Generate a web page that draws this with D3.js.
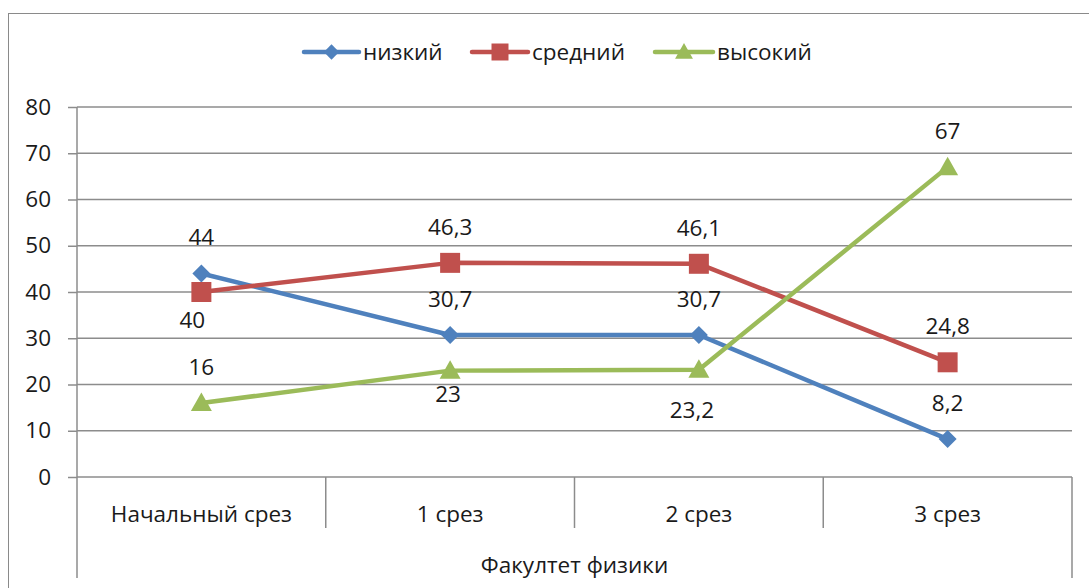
<!DOCTYPE html>
<html>
<head>
<meta charset="utf-8">
<script src="https://cdn.jsdelivr.net/npm/d3@7"></script>
<style>
  html, body { margin: 0; padding: 0; background: #fff; }
  svg { display: block; font-family: "Open Sans", "Noto Sans", sans-serif; }
</style>
</head>
<body>
<svg id="chart" width="1089" height="588"></svg>
<script>
// Categories (slices) and the group they belong to
const categories = ["Начальный срез", "1 срез", "2 срез", "3 срез"];
const groupLabel = "Факултет физики";

// Series values, %
const seriesNames = ["низкий", "средний", "высокий"];
const lowValues = [44, 30.7, 30.7, 8.2];
const midValues = [40, 46.3, 46.1, 24.8];
const highValues = [16, 23, 23.2, 67];

// Y axis ticks
const yTicks = [0, 10, 20, 30, 40, 50, 60, 70, 80];

// Value label offsets from their points, [dx, dy] in px
const lowLabelShift = [[0, -36], [0, -36], [0, -36], [0, -36]];
const midLabelShift = [[-9, 28], [0, -36], [0, -36], [0, -36]];
const highLabelShift = [[0, -36], [-2, 23], [-7, 40], [0, -36]];

const series = [
  { name: seriesNames[0], values: lowValues, shift: lowLabelShift, color: "#4F81BD", marker: "diamond" },
  { name: seriesNames[1], values: midValues, shift: midLabelShift, color: "#C0504D", marker: "square" },
  { name: seriesNames[2], values: highValues, shift: highLabelShift, color: "#9BBB59", marker: "triangle" }
];

const svg = d3.select("#chart");
const plot = { left: 77, right: 1072, top: 107, bottom: 477 };
const textColor = "#1a1a1a";
const gridColor = "#8c8c8c";
const fontSize = 22.5;

// Outer chart frame
svg.append("rect")
  .attr("x", 8.5).attr("y", 13.5)
  .attr("width", 1100).attr("height", 600)
  .attr("fill", "none").attr("stroke", "#8a8a8a").attr("stroke-width", 1);

const x = d3.scaleBand().domain(categories).range([plot.left, plot.right]).padding(0);
const y = d3.scaleLinear().domain([0, 80]).range([plot.bottom, plot.top]);
const cx = c => x(c) + x.bandwidth() / 2;

// Horizontal gridlines
svg.append("g")
  .selectAll("line")
  .data(yTicks)
  .join("line")
  .attr("x1", plot.left).attr("x2", plot.right)
  .attr("y1", d => y(d)).attr("y2", d => y(d))
  .attr("stroke", gridColor).attr("stroke-width", 1.5);

// Y axis
const yAxis = svg.append("g")
  .attr("transform", `translate(${plot.left},0)`)
  .call(d3.axisLeft(y).tickValues(yTicks).tickSize(9).tickPadding(17).tickFormat(d3.format("d")));
yAxis.select(".domain").attr("stroke", gridColor).attr("stroke-width", 1.5)
  .attr("d", `M0,${plot.top}V${plot.bottom + 101}`);
yAxis.selectAll(".tick line").attr("stroke", gridColor).attr("stroke-width", 1.5);
yAxis.selectAll(".tick text")
  .attr("fill", textColor).attr("font-size", fontSize)
  .attr("font-family", "'Open Sans', sans-serif");

// Multi-level category axis: slice boxes and the group label beneath
const bottomAxis = svg.append("g");
bottomAxis.selectAll("line.div")
  .data(categories.slice(1))
  .join("line")
  .attr("class", "div")
  .attr("x1", d => x(d)).attr("x2", d => x(d))
  .attr("y1", plot.bottom).attr("y2", plot.bottom + 51)
  .attr("stroke", gridColor).attr("stroke-width", 1.5);
bottomAxis.append("line")
  .attr("x1", plot.right).attr("x2", plot.right)
  .attr("y1", plot.bottom).attr("y2", plot.bottom + 101)
  .attr("stroke", gridColor).attr("stroke-width", 1.5);
bottomAxis.selectAll("text.cat")
  .data(categories)
  .join("text")
  .attr("class", "cat")
  .attr("x", d => cx(d)).attr("y", plot.bottom + 45)
  .attr("text-anchor", "middle")
  .attr("font-size", fontSize).attr("fill", textColor)
  .text(d => d);
bottomAxis.append("text")
  .attr("x", (plot.left + plot.right) / 2).attr("y", plot.bottom + 96)
  .attr("text-anchor", "middle")
  .attr("font-size", fontSize).attr("fill", textColor)
  .text(groupLabel);

// Marker shapes
function markerPath(type, s) {
  if (type === "diamond") return `M0,${-s}L${s},0L0,${s}L${-s},0Z`;
  if (type === "square") return `M${-s},${-s}H${s}V${s}H${-s}Z`;
  return `M0,${-s * 1.05}L${s * 1.05},${s * 0.8}H${-s * 1.05}Z`;
}
const markerSize = { diamond: 9, square: 10, triangle: 10 };

const line = d3.line().x((d, i) => cx(categories[i])).y(d => y(d));
const fmt = v => String(v).replace(".", ",");

series.forEach(s => {
  const g = svg.append("g");
  g.append("path")
    .datum(s.values)
    .attr("d", line)
    .attr("fill", "none")
    .attr("stroke", s.color)
    .attr("stroke-width", 4.5)
    .attr("stroke-linejoin", "round")
    .attr("stroke-linecap", "round");
  g.selectAll("path.mk")
    .data(s.values)
    .join("path")
    .attr("class", "mk")
    .attr("transform", (d, i) => `translate(${cx(categories[i])},${y(d)})`)
    .attr("d", markerPath(s.marker, markerSize[s.marker]))
    .attr("fill", s.color);
});

// Value labels drawn last so they sit above the lines
series.forEach(s => {
  svg.append("g").selectAll("text")
    .data(s.values)
    .join("text")
    .attr("x", (d, i) => cx(categories[i]) + s.shift[i][0])
    .attr("y", (d, i) => y(d) + s.shift[i][1])
    .attr("dy", "0.35em")
    .attr("text-anchor", "middle")
    .attr("font-size", fontSize).attr("fill", textColor)
    .text(d => fmt(d));
});

// Legend
const legendItems = [
  { lx: 304, tx: 363 },
  { lx: 472, tx: 532 },
  { lx: 655, tx: 717 }
];
const legendY = 52;
series.forEach((s, i) => {
  const it = legendItems[i];
  const g = svg.append("g");
  g.append("line")
    .attr("x1", it.lx).attr("x2", it.tx - 4)
    .attr("y1", legendY).attr("y2", legendY)
    .attr("stroke", s.color).attr("stroke-width", 4.5).attr("stroke-linecap", "round");
  g.append("path")
    .attr("transform", `translate(${(it.lx + it.tx - 4) / 2},${legendY})`)
    .attr("d", markerPath(s.marker, markerSize[s.marker] * 0.85))
    .attr("fill", s.color);
  g.append("text")
    .attr("x", it.tx).attr("y", legendY).attr("dy", "0.35em")
    .attr("font-size", fontSize).attr("fill", textColor)
    .text(s.name);
});
</script>
</body>
</html>
